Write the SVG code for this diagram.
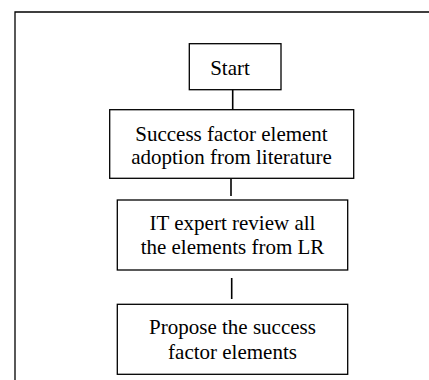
<svg xmlns="http://www.w3.org/2000/svg" width="429" height="380" viewBox="0 0 429 380">
<style>
.box{fill:#fff;stroke:#000;stroke-width:1.3}
.t{font-family:'Liberation Serif','Times New Roman','DejaVu Serif',serif;font-size:21px;fill:#000;text-anchor:middle}
.c{stroke:#000;stroke-width:1.6;fill:none}
</style>
<rect width="429" height="380" fill="#fff"/>
<path d="M15,380 V12 H429" fill="none" stroke="#000" stroke-width="1.3"/>
<g id="connectors">
<line class="c" x1="232.7" y1="89.5" x2="232.7" y2="110"/>
<line class="c" x1="231" y1="178.5" x2="231" y2="196"/>
<line class="c" x1="231.7" y1="278" x2="231.7" y2="299"/>
</g>
<g id="start">
<rect class="box" x="189.3" y="43.7" width="91.7" height="46"/>
<text class="t" x="230" y="75" font-family="Liberation Serif, serif">Start</text>
</g>
<g id="adoption">
<rect class="box" x="109.7" y="109.7" width="244" height="68.6"/>
<text class="t" x="231.5" y="140.7">Success factor element</text>
<text class="t" x="231.5" y="164.3">adoption from literature</text>
</g>
<g id="review">
<rect class="box" x="117.3" y="200" width="230.4" height="70"/>
<text class="t" x="232.5" y="230">IT expert review all</text>
<text class="t" x="232.5" y="253.5">the elements from LR</text>
</g>
<g id="propose">
<rect class="box" x="117.3" y="304.3" width="230.4" height="70"/>
<text class="t" x="232.5" y="334">Propose the success</text>
<text class="t" x="232.5" y="359.3">factor elements</text>
</g>
</svg>
